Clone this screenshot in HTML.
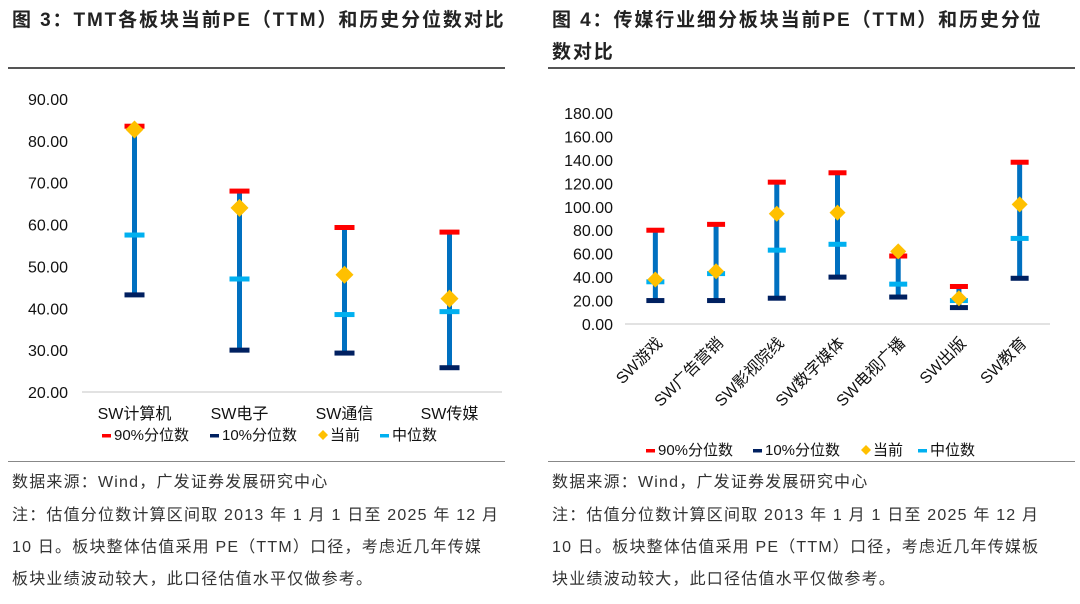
<!DOCTYPE html>
<html><head><meta charset="utf-8"><style>
body{margin:0;background:#fff;width:1080px;height:604px;overflow:hidden;font-family:"Liberation Sans","Noto Sans CJK SC",sans-serif;}
svg{display:block}
.t{font-weight:bold;font-size:19px;fill:#222;letter-spacing:1.9px}
.f{font-size:16px;fill:#333;letter-spacing:1.2px}
.tick{font-size:16px;fill:#111}
.lg{font-size:15px;fill:#111}
</style></head><body>
<svg id="s" width="1080" height="604" xmlns="http://www.w3.org/2000/svg">
<text class="t" x="12" y="26">图 3：TMT各板块当前PE（TTM）和历史分位数对比</text>
<text class="t" x="552" y="26">图 4：传媒行业细分板块当前PE（TTM）和历史分位</text>
<text class="t" x="552" y="58">数对比</text>
<rect x="8" y="67" width="497" height="2" fill="#555"/>
<rect x="548" y="67" width="527" height="2" fill="#555"/>
<rect x="8" y="461" width="497" height="1" fill="#888"/>
<rect x="548" y="461" width="527" height="1" fill="#888"/>
<text class="f" x="12" y="487">数据来源：Wind，广发证券发展研究中心</text>
<text class="f" x="12" y="520">注：估值分位数计算区间取 2013 年 1 月 1 日至 2025 年 12 月</text>
<text class="f" x="12" y="552">10 日。板块整体估值采用 PE（TTM）口径，考虑近几年传媒</text>
<text class="f" x="12" y="584">板块业绩波动较大，此口径估值水平仅做参考。</text>
<text class="f" x="552" y="487">数据来源：Wind，广发证券发展研究中心</text>
<text class="f" x="552" y="520">注：估值分位数计算区间取 2013 年 1 月 1 日至 2025 年 12 月</text>
<text class="f" x="552" y="552">10 日。板块整体估值采用 PE（TTM）口径，考虑近几年传媒板</text>
<text class="f" x="552" y="584">块业绩波动较大，此口径估值水平仅做参考。</text>
<g id="c1"></g>
<g id="c2"></g>
</svg>
<script>
const cats1=["SW计算机","SW电子","SW通信","SW传媒"];
const p90_1=[83.5,68,59.3,58.2];
const p10_1=[43.2,30,29.3,25.8];
const cur_1=[82.7,64,48,42.3];
const med_1=[57.5,47,38.5,39.2];
const ticks1=["20.00","30.00","40.00","50.00","60.00","70.00","80.00","90.00"];
const cats2=["SW游戏","SW广告营销","SW影视院线","SW数字媒体","SW电视广播","SW出版","SW教育"];
const p90_2=[80,85,121,129,58,32,138];
const p10_2=[20,20,22,40,23,14,39];
const cur_2=[38,45,94,95,62,22,102];
const med_2=[36,43,63,68,34,20,73];
const ticks2=["0.00","20.00","40.00","60.00","80.00","100.00","120.00","140.00","160.00","180.00"];
const NS="http://www.w3.org/2000/svg";
function mk(p,t,a){const e=document.createElementNS(NS,t);for(const k in a)e.setAttribute(k,a[k]);p.appendChild(e);return e;}
function draw(g,cfg){
  const y=v=>cfg.y0+(v-cfg.vmin)/(cfg.vmax-cfg.vmin)*(cfg.y1-cfg.y0);
  const n=cfg.cats.length,bw=(cfg.x1-cfg.x0)/n;
  const x=i=>cfg.x0+bw*(i+0.5);
  cfg.ticks.forEach(t=>{const e=mk(g,"text",{x:cfg.tx,y:y(+t)+6,"text-anchor":"end",class:"tick"});e.textContent=t;
    
    });
  const ax=mk(g,"line",{x1:cfg.x0,x2:cfg.x1,y1:y(cfg.vmin),y2:y(cfg.vmin),stroke:"#d9d9d9","stroke-width":1.5});
  
  
  const hw=cfg.hw;
  cfg.cats.forEach((c,i)=>{
    const cx=x(i);
    const r=mk(g,"line",{x1:cx,x2:cx,y1:y(cfg.p90[i]),y2:y(cfg.p10[i]),stroke:"#0070c0","stroke-width":5});
    
    
    const a=mk(g,"rect",{x:cx-hw,y:y(cfg.p90[i])-2.5,width:hw*2,height:5,fill:"#ff0000"});
    
    
    const b=mk(g,"rect",{x:cx-hw,y:y(cfg.p10[i])-2.5,width:hw*2,height:5,fill:"#002060"});
    
    
    const m=mk(g,"rect",{x:cx-hw,y:y(cfg.med[i])-2.5,width:hw*2,height:5,fill:"#00b0f0"});
    
    
    const cy=y(cfg.cur[i]),d=cfg.d;
    const dm=mk(g,"polygon",{points:`${cx},${cy-d} ${cx+d},${cy} ${cx},${cy+d} ${cx-d},${cy}`,fill:"#ffc000"});
    
    
    let lab;
    if(cfg.rot){const ly=y(cfg.vmin)+20;lab=mk(g,"text",{x:cx+8,y:ly,"text-anchor":"end",class:"tick",transform:`rotate(-45 ${cx+8} ${ly})`});}
    else lab=mk(g,"text",{x:cx,y:y(cfg.vmin)+27,"text-anchor":"middle",class:"tick"});
    lab.textContent=c;
    
    
  });
  const items=[["90%分位数","#ff0000","r"],["10%分位数","#002060","r"],["当前","#ffc000","d"],["中位数","#00b0f0","r"]];
  let lx=cfg.lx;
  items.forEach((it,k)=>{
    const ly=cfg.ly;
    let s;
    if(it[2]=="r")s=mk(g,"rect",{x:lx,y:ly-6,width:9,height:3.5,fill:it[1]});
    else s=mk(g,"polygon",{points:`${lx+5},${ly-10} ${lx+10},${ly-5} ${lx+5},${ly} ${lx},${ly-5}`,fill:it[1]});
    
    
    const t=mk(g,"text",{x:lx+12,y:ly,class:"lg"});t.textContent=it[0];
    
    
    lx+=cfg.lsp[k];
  });
}
draw(document.getElementById("c1"),{cats:cats1,p90:p90_1,p10:p10_1,cur:cur_1,med:med_1,ticks:ticks1,vmin:20,vmax:90,y0:392,y1:99,x0:82,x1:502,tx:68,hw:10,d:9,rot:false,lx:102,ly:440,lsp:[108,108,62]});
draw(document.getElementById("c2"),{cats:cats2,p90:p90_2,p10:p10_2,cur:cur_2,med:med_2,ticks:ticks2,vmin:0,vmax:180,y0:324,y1:113,x0:625,x1:1050,tx:613,hw:9,d:8,rot:true,lx:646,ly:455,lsp:[107,108,57]});
</script>
</body></html>
